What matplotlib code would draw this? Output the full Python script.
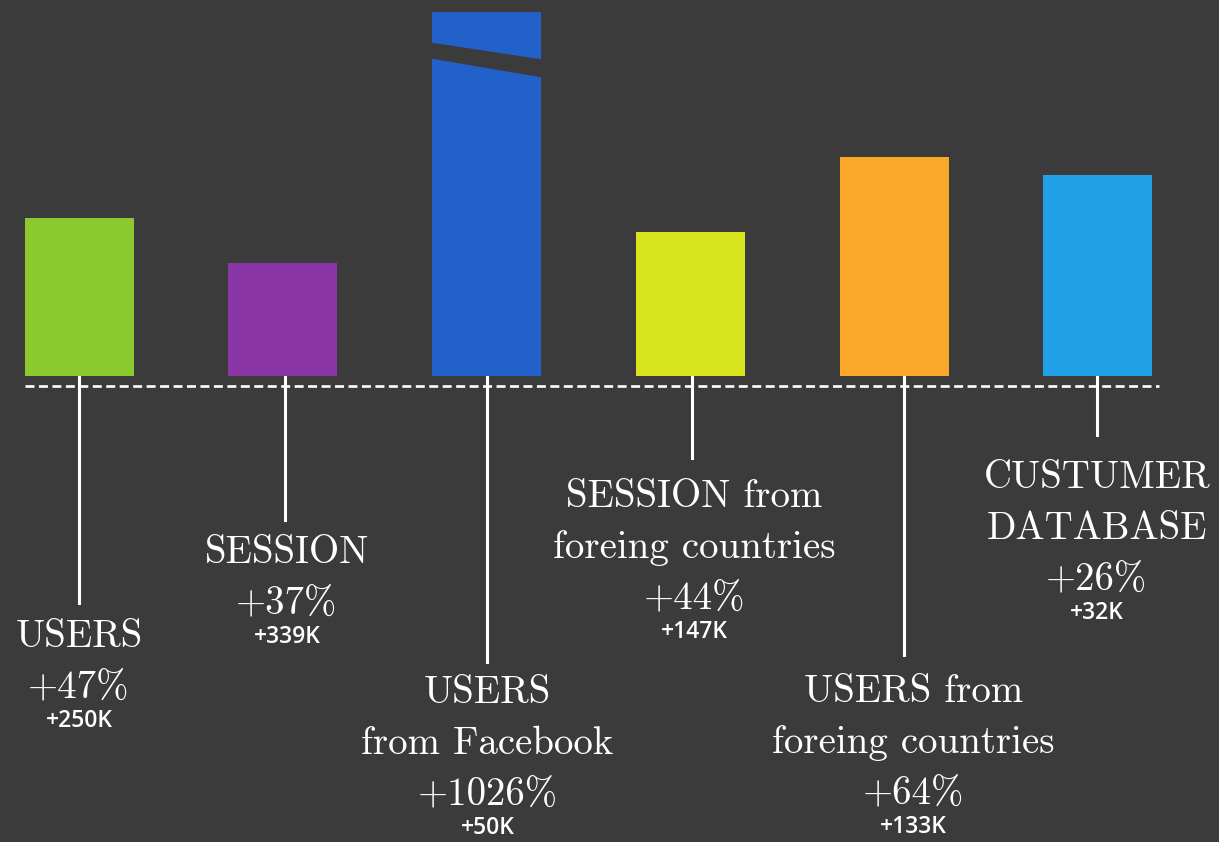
import matplotlib.pyplot as plt
from matplotlib.patches import Polygon

# Datos de cada métrica
titulos = ["USERS", "SESSION", "USERS\nfrom Facebook", "SESSION from\nforeing countries",
           "USERS from\nforeing countries", "CUSTUMER\nDATABASE"]
porcentajes = ["+47%", "+37%", "+1026%", "+44%", "+64%", "+26%"]
absolutos = ["+250K", "+339K", "+50K", "+147K", "+133K", "+32K"]
alturas = [158, 113, 364, 144, 219, 201]
colores = ["#8cc92e", "#8a35a6", "#2161c9", "#d6e31d", "#f9a82a", "#20a0e6"]

fondo = "#3b3b3b"

# Longitud de la línea guía bajo la base, separación guía-texto y desplazamiento horizontal
guia = [227, 144, 286, 82, 279, 59]
sep_texto = [34, 33, 31, 39, 37, 43]
desp_x = [0, 4, 1, 4, 19, -1]

fig = plt.figure(figsize=(12.19, 8.42), dpi=100, facecolor=fondo)
ax = fig.add_axes([0, 0, 1, 1])
ax.set_facecolor(fondo)
ax.set_xlim(-0.388, 5.594)
ax.set_ylim(-466, 376)
ax.axis("off")

x = list(range(len(alturas)))
ax.bar(x, alturas, width=0.535, color=colores, zorder=2)

# Corte diagonal en la barra de Facebook (valor fuera de escala)
i = 2
xl, xr = i - 0.29, i + 0.29
corte = Polygon([(xl, 376 - 42), (xr, 376 - 60), (xr, 376 - 78), (xl, 376 - 58)],
                closed=True, facecolor=fondo, edgecolor="none", zorder=3)
ax.add_patch(corte)

# Línea base punteada
ax.plot([-0.265, 5.3], [-10, -10], color="white", lw=1.9, ls=(0, (3.4, 1.7)), zorder=4)

serif = ["cmr10", "DejaVu Serif"]
for xi, t, p, a, g, s, dx in zip(x, titulos, porcentajes, absolutos, guia, sep_texto, desp_x):
    xg = xi + dx / 204 * 0.5
    ax.plot([xg, xg], [0, -g], color="white", lw=2.2, zorder=1)
    xt = xi + dx / 204
    lineas = t.split("\n") + [p]
    y = -g - s
    for k, linea in enumerate(lineas):
        ax.text(xt, y - 51 * k, linea, color="white", fontsize=28, family=serif,
                ha="center", va="center")
    y_abs = y - 51 * (len(lineas) - 1) - 33
    ax.text(xt, y_abs, a, color="white", fontsize=16.5, family="Open Sans", weight="semibold",
            ha="center", va="center")

fig.savefig("out.png", dpi=100, facecolor=fondo)
